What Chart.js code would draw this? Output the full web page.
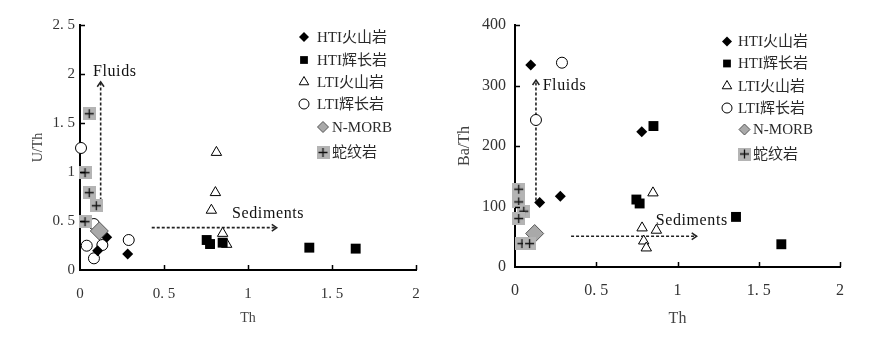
<!DOCTYPE html>
<html lang="zh">
<head>
<meta charset="UTF-8">
<title>U/Th - Ba/Th vs Th</title>
<script src="https://cdn.jsdelivr.net/npm/chart.js"></script>
<style>
  body { margin: 0; background: #fff; }
  .painel { position: absolute; top: 0; width: 443px; height: 340px; }
</style>
</head>
<body>
<div class="painel" style="left:0"><canvas id="graficoUTh" width="443" height="340"></canvas></div>
<div class="painel" style="left:443px"><canvas id="graficoBaTh" width="443" height="340"></canvas></div>

<script>
// ---- dados ----
const nomesSeries = ['HTI火山岩', 'HTI辉长岩', 'LTI火山岩', 'LTI辉长岩', 'N-MORB', '蛇纹岩'];
const ticksTh = [0, 0.5, 1, 1.5, 2];
const ticksUTh = [0, 0.5, 1, 1.5, 2, 2.5];
const ticksBaTh = [0, 100, 200, 300, 400];

// grafico U/Th x Th
const thHtiVulcA = [0.159, 0.105, 0.284];
const uthHtiVulc = [0.334, 0.197, 0.163];
const thHtiGabroA = [0.754, 0.774, 0.849, 1.365, 1.641];
const uthHtiGabro = [0.306, 0.265, 0.279, 0.228, 0.218];
const thLtiVulcA = [0.812, 0.806, 0.782, 0.849, 0.873];
const uthLtiVulc = [1.20, 0.79, 0.61, 0.374, 0.262];
const thLtiGabroA = [0.006, 0.083, 0.04, 0.133, 0.083, 0.29];
const uthLtiGabro = [1.245, 0.469, 0.248, 0.255, 0.119, 0.306];
const thMorbA = [0.115];
const uthMorb = [0.398];
const thSerpA = [0.055, 0.03, 0.055, 0.097, 0.03];
const uthSerp = [1.595, 0.993, 0.789, 0.656, 0.493];

// grafico Ba/Th x Th
const thHtiVulcB = [0.097, 0.152, 0.279, 0.780];
const bathHtiVulc = [334, 106.6, 117, 223.5];
const thHtiGabroB = [0.852, 0.747, 0.767, 1.360, 1.639];
const bathHtiGabro = [233, 111.5, 105, 82.8, 37.6];
const thLtiVulcB = [0.849, 0.782, 0.870, 0.792, 0.808];
const bathLtiVulc = [122.5, 64.6, 60.8, 43, 31.5];
const thLtiGabroB = [0.289, 0.129];
const bathLtiGabro = [337.7, 243];
const thMorbB = [0.121];
const bathMorb = [55.3];
const thSerpB = [0.023, 0.023, 0.054, 0.023, 0.043, 0.090];
const bathSerp = [128.6, 107.6, 92.2, 80.1, 38.7, 38.7];

// setas (inicio -> ponta) e textos
const setaUTh_x = [[0.123, 0.123], [0.427, 1.171]];
const setaUTh_y = [[0.71, 1.92], [0.432, 0.432]];
const setaBaTh_x = [[0.129, 0.129], [0.345, 1.118]];
const setaBaTh_y = [[110, 309], [50.8, 50.8]];
const notaTextos = ['Fluids', 'Sediments'];
const notaUTh_x = [0.077, 0.905];
const notaUTh_y = [2.02, 0.571];
const notaBaTh_x = [0.170, 0.866];
const notaBaTh_y = [299.7, 76.2];

// ---- estilos ----
const fonteSerif = "'Liberation Serif', 'Noto Sans CJK SC', serif";

// quadrado cinza com cruz (serpentinito)
const marcaSerp = document.createElement('canvas');
marcaSerp.width = 13; marcaSerp.height = 13;
(function () {
  const c = marcaSerp.getContext('2d');
  c.fillStyle = '#b4b4b4';
  c.fillRect(0, 0, 13, 13);
  c.strokeStyle = '#111';
  c.lineWidth = 1.3;
  c.beginPath();
  c.moveTo(2, 6.5); c.lineTo(11, 6.5);
  c.moveTo(6.5, 2); c.lineTo(6.5, 11);
  c.stroke();
})();

const estilos = [
  { pointStyle: 'rectRot', radius: 5.5, legRadius: 5, bg: '#000', border: '#000', bw: 0 },
  { pointStyle: 'rect', radius: 7, legRadius: 5.5, bg: '#000', border: '#000', bw: 0 },
  { pointStyle: 'triangle', radius: 6, legRadius: 5.5, bg: '#fff', border: '#000', bw: 1 },
  { pointStyle: 'circle', radius: 5.5, legRadius: 5, bg: '#fff', border: '#000', bw: 1 },
  { pointStyle: 'rectRot', radius: 9, legRadius: 5.5, bg: '#a9a9a9', border: '#555', bw: 1 },
  { pointStyle: marcaSerp, radius: 7, legRadius: 7, bg: '#b4b4b4', border: '#b4b4b4', bw: 0 }
];
// ordem de desenho: menor fica por cima
const ordemDesenho = [2, 3, 4, 5, 1, 0];

function pontos(xs, ys) {
  return xs.map((x, i) => ({ x: x, y: ys[i] }));
}

function montarDatasets(series, setasX, setasY) {
  const ds = series.map((s, i) => ({
    label: nomesSeries[i],
    data: pontos(s[0], s[1]),
    pointStyle: estilos[i].pointStyle,
    pointRadius: estilos[i].radius,
    pointHoverRadius: estilos[i].radius,
    backgroundColor: estilos[i].bg,
    borderColor: estilos[i].border,
    borderWidth: estilos[i].bw,
    clip: false,
    order: ordemDesenho[i]
  }));
  setasX.forEach((xs, i) => {
    ds.push({
      label: 'seta' + i,
      data: pontos(xs, setasY[i]),
      showLine: true,
      borderColor: '#222',
      borderWidth: 1.6,
      borderDash: [3, 2],
      pointRadius: 0,
      ehSeta: true,
      order: 10
    });
  });
  return ds;
}

function desenharPonta(ctx, x0, y0, x1, y1) {
  const ang = Math.atan2(y1 - y0, x1 - x0);
  const tam = 6, abre = 0.6;
  ctx.save();
  ctx.strokeStyle = '#222';
  ctx.lineWidth = 1.5;
  ctx.beginPath();
  ctx.moveTo(x1 - tam * Math.cos(ang - abre), y1 - tam * Math.sin(ang - abre));
  ctx.lineTo(x1, y1);
  ctx.lineTo(x1 - tam * Math.cos(ang + abre), y1 - tam * Math.sin(ang + abre));
  ctx.stroke();
  ctx.restore();
}

const pluginExtras = {
  id: 'extras',
  afterDatasetsDraw(chart, args, opts) {
    const ctx = chart.ctx;
    chart.data.datasets.forEach((d, i) => {
      if (!d.ehSeta) return;
      const pts = chart.getDatasetMeta(i).data;
      desenharPonta(ctx, pts[0].x, pts[0].y, pts[1].x, pts[1].y);
    });
    const sx = chart.scales.x, sy = chart.scales.y;
    ctx.save();
    ctx.fillStyle = '#111';
    ctx.font = '16px ' + fonteSerif;
    ctx.letterSpacing = '0.6px';
    ctx.textAlign = 'left';
    ctx.textBaseline = 'middle';
    notaTextos.forEach((t, i) => {
      ctx.fillText(t, sx.getPixelForValue(opts.notaX[i]), sy.getPixelForValue(opts.notaY[i]));
    });
    ctx.restore();
  },
  afterDraw(chart, args, opts) {
    const ctx = chart.ctx;
    const sx = chart.scales.x, sy = chart.scales.y;
    // ticks para dentro
    ctx.save();
    ctx.strokeStyle = '#000';
    ctx.lineWidth = 1.5;
    ctx.beginPath();
    sx.ticks.forEach(t => {
      if (t.value === 0) return;
      const px = Math.round(sx.getPixelForValue(t.value)) + 0.5;
      ctx.moveTo(px, sy.bottom); ctx.lineTo(px, sy.bottom - 5);
    });
    sy.ticks.forEach(t => {
      if (t.value === 0) return;
      const py = Math.round(sy.getPixelForValue(t.value)) + 0.5;
      ctx.moveTo(sx.left, py); ctx.lineTo(sx.left + 5, py);
    });
    ctx.stroke();
    ctx.restore();

    // legenda
    const leg = opts.legenda;
    ctx.save();
    ctx.font = '15px ' + fonteSerif;
    ctx.letterSpacing = '0px';
    ctx.textBaseline = 'middle';
    ctx.textAlign = 'left';
    nomesSeries.forEach((nome, i) => {
      const e = estilos[i];
      const mx = i >= 4 ? leg.mx2 : leg.mx;
      const tx = i >= 4 ? leg.tx2 : leg.tx;
      ctx.fillStyle = e.bg;
      ctx.strokeStyle = e.border;
      ctx.lineWidth = e.bw;
      Chart.helpers.drawPoint(ctx, { pointStyle: e.pointStyle, radius: e.legRadius, rotation: 0, borderWidth: e.bw }, mx, leg.ys[i]);
      ctx.fillStyle = '#2a2a2a';
      ctx.fillText(nome, tx, leg.ys[i] + 1);
    });
    ctx.restore();
  }
};

function fixar(tamanho) {
  return function (scale) {
    if (scale.isHorizontal()) scale.height = tamanho; else scale.width = tamanho;
  };
}

function formatar(v) {
  return String(v).replace('.', '. ');
}

function criarGrafico(id, cfg) {
  return new Chart(document.getElementById(id), {
    type: 'scatter',
    data: { datasets: montarDatasets(cfg.series, cfg.setasX, cfg.setasY) },
    options: {
      responsive: false,
      animation: false,
      devicePixelRatio: 1,
      layout: { padding: cfg.padding },
      plugins: {
        legend: { display: false },
        tooltip: { enabled: false },
        extras: { notaX: cfg.notaX, notaY: cfg.notaY, legenda: cfg.legenda }
      },
      scales: {
        x: {
          type: 'linear',
          min: 0, max: 2,
          afterBuildTicks: s => { s.ticks = ticksTh.map(v => ({ value: v })); },
          afterFit: fixar(cfg.alturaX),
          grid: { display: false, drawTicks: false },
          border: { display: true, color: '#000', width: 2 },
          ticks: {
            padding: cfg.padTickX,
            color: '#333',
            font: { family: fonteSerif, size: cfg.fonteTick },
            callback: formatar
          },
          title: {
            display: true, text: 'Th', color: '#444',
            font: { family: fonteSerif, size: cfg.fonteTitulo },
            padding: { top: 0, bottom: cfg.padTituloX }
          }
        },
        y: {
          type: 'linear',
          min: cfg.yMin, max: cfg.yMax,
          afterBuildTicks: s => { s.ticks = cfg.ticksY.map(v => ({ value: v })); },
          afterFit: fixar(cfg.larguraY),
          grid: { display: false, drawTicks: false },
          border: { display: true, color: '#000', width: 2 },
          ticks: {
            padding: cfg.padTickY,
            color: '#333',
            font: { family: fonteSerif, size: cfg.fonteTick },
            callback: formatar
          },
          title: {
            display: true, text: cfg.tituloY, color: '#444',
            font: { family: fonteSerif, size: cfg.fonteTitulo },
            padding: { top: cfg.padTituloY, bottom: 0 }
          }
        }
      }
    },
    plugins: [pluginExtras]
  });
}

criarGrafico('graficoUTh', {
  series: [
    [thHtiVulcA, uthHtiVulc], [thHtiGabroA, uthHtiGabro], [thLtiVulcA, uthLtiVulc],
    [thLtiGabroA, uthLtiGabro], [thMorbA, uthMorb], [thSerpA, uthSerp]
  ],
  setasX: setaUTh_x, setasY: setaUTh_y,
  notaX: notaUTh_x, notaY: notaUTh_y,
  yMin: 0, yMax: 2.5, ticksY: ticksUTh, tituloY: 'U/Th',
  padding: { top: 25, right: 27, left: 0, bottom: 0 },
  larguraY: 80, alturaX: 70,
  padTickX: 15, padTickY: 5,
  fonteTick: 15, fonteTitulo: 14,
  padTituloX: 13, padTituloY: 30,
  legenda: { mx: 304, tx: 317, mx2: 323, tx2: 332, ys: [37, 60, 82, 104, 127, 152.5] }
});

criarGrafico('graficoBaTh', {
  series: [
    [thHtiVulcB, bathHtiVulc], [thHtiGabroB, bathHtiGabro], [thLtiVulcB, bathLtiVulc],
    [thLtiGabroB, bathLtiGabro], [thMorbB, bathMorb], [thSerpB, bathSerp]
  ],
  setasX: setaBaTh_x, setasY: setaBaTh_y,
  notaX: notaBaTh_x, notaY: notaBaTh_y,
  yMin: 0, yMax: 400, ticksY: ticksBaTh, tituloY: 'Ba/Th',
  padding: { top: 25, right: 46, left: 0, bottom: 0 },
  larguraY: 72, alturaX: 73,
  padTickX: 14, padTickY: 9,
  fonteTick: 16, fonteTitulo: 16,
  padTituloX: 12, padTituloY: 12,
  legenda: { mx: 284, tx: 295, mx2: 301.5, tx2: 310, ys: [41.5, 63.5, 86, 108, 129.5, 154] }
});
</script>
</body>
</html>
